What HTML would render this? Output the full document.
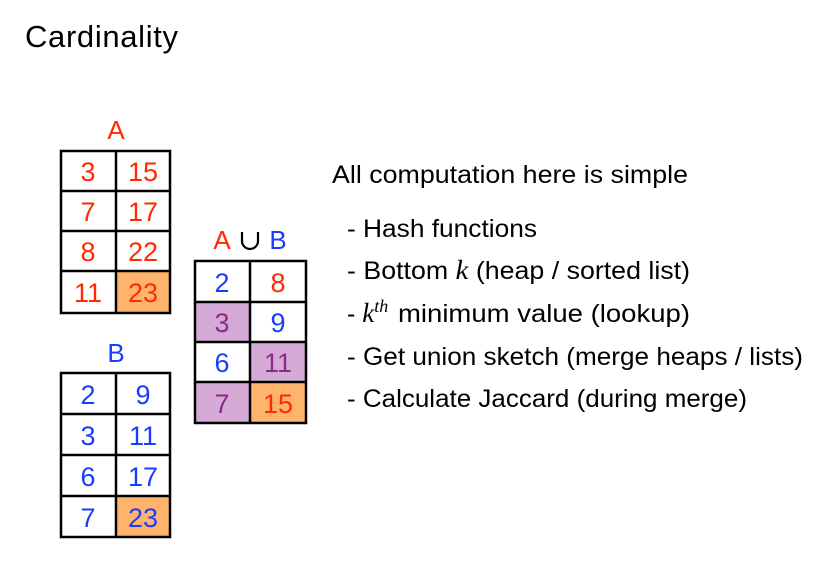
<!DOCTYPE html>
<html><head><meta charset="utf-8"><style>
html,body{margin:0;padding:0;background:#fff;}
svg text{font-family:"Liberation Sans",sans-serif;}
</style></head><body>
<svg width="824" height="571" xmlns="http://www.w3.org/2000/svg">
<text x="25" y="47" font-size="31" fill="#000" textLength="153">Cardinality</text>

<!-- A -->
<text x="116" y="139" font-size="26" fill="#ff2a00" text-anchor="middle">A</text>
<rect x="116" y="271" width="54" height="42" fill="#ffb46e"/>
<g stroke="#000" stroke-width="2.5" fill="none">
<rect x="61" y="151" width="109" height="162"/>
<line x1="116" y1="151" x2="116" y2="313"/>
<line x1="61" y1="191" x2="170" y2="191"/>
<line x1="61" y1="231" x2="170" y2="231"/>
<line x1="61" y1="271" x2="170" y2="271"/>
</g>
<g font-size="27" fill="#ff2a00" text-anchor="middle">
<text x="88" y="181">3</text><text x="143" y="181">15</text>
<text x="88" y="221">7</text><text x="143" y="221">17</text>
<text x="88" y="261">8</text><text x="143" y="261">22</text>
<text x="88" y="302">11</text><text x="143" y="302">23</text>
</g>

<!-- B -->
<text x="116" y="362" font-size="26" fill="#1a3cff" text-anchor="middle">B</text>
<rect x="116" y="496" width="54" height="41" fill="#ffb46e"/>
<g stroke="#000" stroke-width="2.5" fill="none">
<rect x="61" y="373" width="109" height="164"/>
<line x1="116" y1="373" x2="116" y2="537"/>
<line x1="61" y1="414" x2="170" y2="414"/>
<line x1="61" y1="455" x2="170" y2="455"/>
<line x1="61" y1="496" x2="170" y2="496"/>
</g>
<g font-size="27" fill="#1a3cff" text-anchor="middle">
<text x="88" y="404">2</text><text x="143" y="404">9</text>
<text x="88" y="445">3</text><text x="143" y="445">11</text>
<text x="88" y="486">6</text><text x="143" y="486">17</text>
<text x="88" y="527">7</text><text x="143" y="527">23</text>
</g>

<!-- Union -->
<text x="222" y="249" font-size="26" fill="#ff2a00" text-anchor="middle">A</text>
<path d="M242 232 V241 a8 8 0 0 0 16 0 V232" stroke="#000" stroke-width="2.2" fill="none"/>
<text x="278" y="249" font-size="26" fill="#1a3cff" text-anchor="middle">B</text>
<rect x="195" y="302" width="55" height="40" fill="#d6aad6"/>
<rect x="250" y="342" width="56" height="40" fill="#d6aad6"/>
<rect x="195" y="382" width="55" height="41" fill="#d6aad6"/>
<rect x="250" y="382" width="56" height="41" fill="#ffb46e"/>
<g stroke="#000" stroke-width="2.5" fill="none">
<rect x="195" y="261" width="111" height="162"/>
<line x1="250" y1="261" x2="250" y2="423"/>
<line x1="195" y1="302" x2="306" y2="302"/>
<line x1="195" y1="342" x2="306" y2="342"/>
<line x1="195" y1="382" x2="306" y2="382"/>
</g>
<g font-size="27" text-anchor="middle">
<text x="222" y="292" fill="#1a3cff">2</text><text x="278" y="292" fill="#ff2a00">8</text>
<text x="222" y="332" fill="#8a2a8e">3</text><text x="278" y="332" fill="#1a3cff">9</text>
<text x="222" y="372" fill="#1a3cff">6</text><text x="278" y="372" fill="#8a2a8e">11</text>
<text x="222" y="413" fill="#8a2a8e">7</text><text x="278" y="413" fill="#ff2a00">15</text>
</g>

<!-- right text -->
<g font-size="25" fill="#000">
<text x="332" y="183" textLength="356" lengthAdjust="spacingAndGlyphs">All computation here is simple</text>
<text x="347" y="237" textLength="190" lengthAdjust="spacingAndGlyphs">- Hash functions</text>
<text x="347" y="279" textLength="343" lengthAdjust="spacingAndGlyphs">- Bottom <tspan font-family="Liberation Serif,serif" font-style="italic" font-size="27">k</tspan> (heap / sorted list)</text>
<text x="347" y="322">- <tspan font-family="Liberation Serif,serif" font-style="italic" font-size="27">k</tspan><tspan font-family="Liberation Serif,serif" font-style="italic" font-size="18" dy="-10">th</tspan></text>
<text x="398" y="322" textLength="292" lengthAdjust="spacingAndGlyphs">minimum value (lookup)</text>
<text x="347" y="365" textLength="456" lengthAdjust="spacingAndGlyphs">- Get union sketch (merge heaps / lists)</text>
<text x="347" y="407" textLength="400" lengthAdjust="spacingAndGlyphs">- Calculate Jaccard (during merge)</text>
</g>
</svg>
</body></html>
